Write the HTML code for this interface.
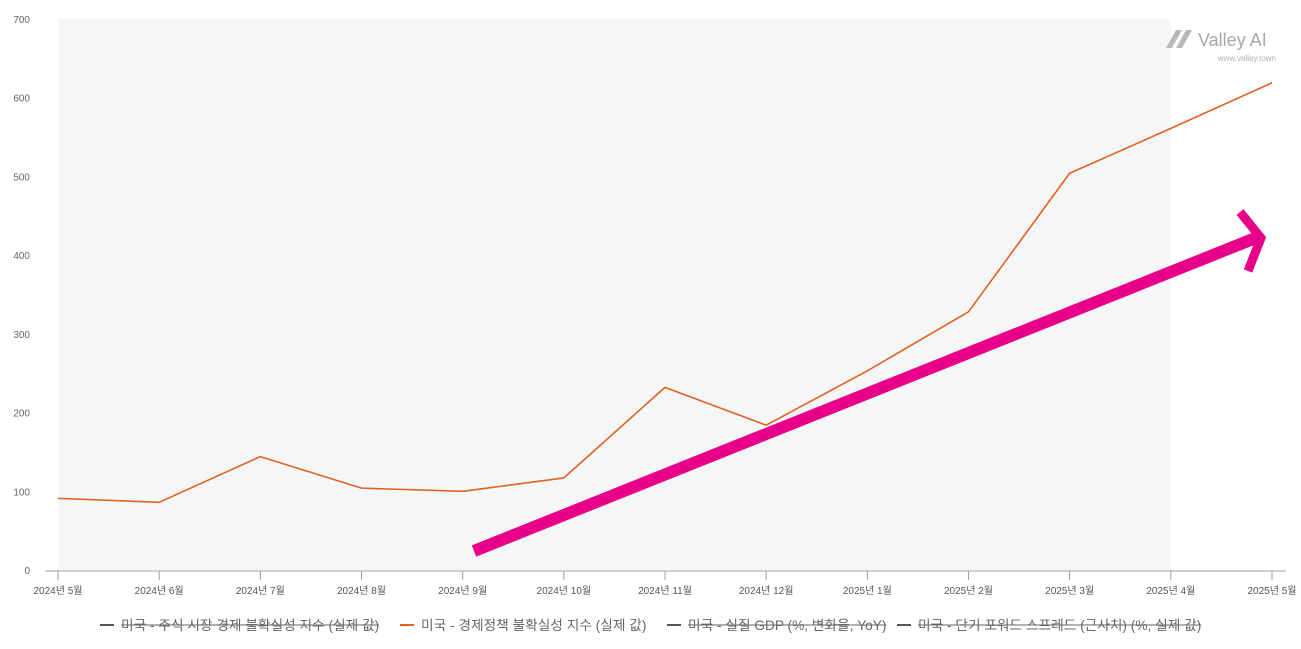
<!DOCTYPE html>
<html><head><meta charset="utf-8">
<style>
html,body{margin:0;padding:0;background:#fff;}
body{width:1301px;height:644px;overflow:hidden;font-family:"Liberation Sans","Noto Sans CJK KR",sans-serif;}
svg text{font-family:"Liberation Sans","Noto Sans CJK KR",sans-serif;}
</style></head>
<body>
<svg id="chart" width="1301" height="644" xmlns="http://www.w3.org/2000/svg">
  <g id="plot-bg"></g>
  <g id="yaxis"></g>
  <g id="xaxis"></g>
  <g id="series"></g>
  <g>
    <line x1="474" y1="551" x2="1258" y2="237" stroke="#e8008a" stroke-width="12"/>
    <polyline points="1240,212 1261,238 1248,271" fill="none" stroke="#e8008a" stroke-width="9"/>
  </g>
  <g>
    <path d="M1166,48 L1176,30 L1182,30 L1172,48 Z M1176,48 L1186,30 L1192,30 L1182,48 Z" fill="#b8b8b8"/>
    <text x="1198" y="46" font-size="18" fill="#a8a8a8">Valley AI</text>
    <text x="1276" y="61" font-size="8" fill="#b0b0b0" text-anchor="end">www.valley.town</text>
  </g>
  <g id="legend"></g>
</svg>
<script>
const categories=["2024년 5월","2024년 6월","2024년 7월","2024년 8월","2024년 9월","2024년 10월","2024년 11월","2024년 12월","2025년 1월","2025년 2월","2025년 3월","2025년 4월","2025년 5월"];
const policyUncertainty=[91,86,144,104,100,117,232,184,253,328,504,561,619];
const yTicks=[0,100,200,300,400,500,600,700];
const legendLabels=["미국 - 주식 시장 경제 불확실성 지수 (실제 값)","미국 - 경제정책 불확실성 지수 (실제 값)","미국 - 실질 GDP (%, 변화율, YoY)","미국 - 단기 포워드 스프레드 (근사치) (%, 실제 값)"];
const legendHidden=[true,false,true,true];

const NS="http://www.w3.org/2000/svg";
const x0=58,x1=1272,yTop=19,yBot=570,yMax=700;
function xs(i){return x0+(x1-x0)*i/(categories.length-1);}
function ys(v){return yBot-(yBot-yTop)*v/yMax;}
function mk(tag,attrs,parent,txt){const e=document.createElementNS(NS,tag);for(const k in attrs)e.setAttribute(k,attrs[k]);if(txt!==undefined)e.textContent=txt;parent.appendChild(e);return e;}

const bg=document.getElementById('plot-bg');
const r=mk('rect',{x:x0,y:yTop,width:xs(11)-x0,height:yBot-yTop,fill:'#f5f6f8'},bg);



const ya=document.getElementById('yaxis');
yTicks.forEach(v=>{
  const t=mk('text',{x:30,y:ys(v)+4,'font-size':10,fill:'#666','text-anchor':'end'},ya,String(v));
  
  
});

const xa=document.getElementById('xaxis');
const al=mk('line',{x1:45,y1:571,x2:1286,y2:571,stroke:'#9a9ca6','stroke-width':1},xa);


categories.forEach((c,i)=>{
  const tk=mk('line',{x1:xs(i),y1:571,x2:xs(i),y2:580,stroke:'#9a9ca6','stroke-width':1},xa);
  
  
  const t=mk('text',{x:xs(i),y:594,'font-size':10,fill:'#555','text-anchor':'middle'},xa,c);
  
  
});

const sg=document.getElementById('series');
const pts=policyUncertainty.map((v,i)=>xs(i)+','+ys(v)).join(' ');
const pl=mk('polyline',{points:pts,fill:'none',stroke:'#e3611f','stroke-width':1.6,'stroke-linejoin':'round'},sg);



const lg=document.getElementById('legend');
const lx=[100,400,667,897];
legendLabels.forEach((l,i)=>{
  const g=mk('g',{},lg);
  
  
  const col=legendHidden[i]?'#555':'#e3611f';
  mk('line',{x1:lx[i],y1:625,x2:lx[i]+14,y2:625,stroke:col,'stroke-width':2},g);
  const t=mk('text',{x:lx[i]+21,y:630,'font-size':13.7,fill:'#666'},g,l);
  if(legendHidden[i]){
    const w=t.getComputedTextLength();
    mk('line',{x1:lx[i]+21,y1:625,x2:lx[i]+21+w,y2:625,stroke:'#666','stroke-width':1},g);}
});
</script>
</body></html>
